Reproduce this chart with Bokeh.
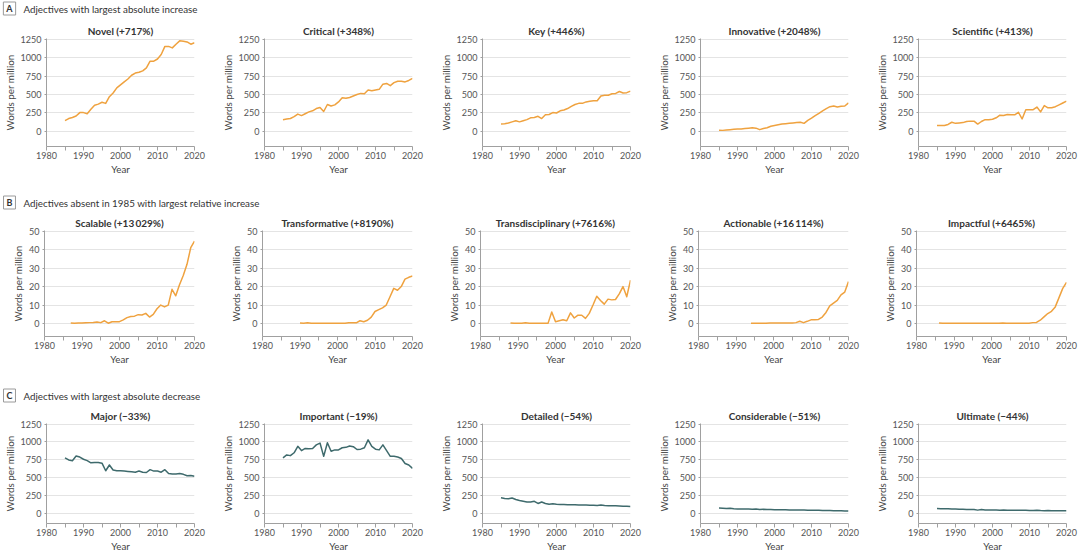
from bokeh.plotting import figure
from bokeh.layouts import column, row
from bokeh.models import Label, FixedTicker, Range1d
from bokeh.embed import file_html
from bokeh.resources import INLINE

# ---------------- data ----------------
years = list(range(1985, 2021))

novel = [147, 175, 190, 210, 255, 255, 240, 300, 355, 370, 395, 380, 470, 520, 590, 630,
         670, 710, 760, 790, 800, 820, 860, 950, 950, 980, 1040, 1150, 1150, 1130, 1180, 1225,
         1220, 1210, 1180, 1200]
critical = [160, 170, 175, 200, 235, 215, 240, 265, 280, 310, 325, 270, 365, 345, 360, 400,
            455, 450, 460, 480, 500, 515, 510, 560, 550, 560, 570, 640, 650, 620, 660, 680,
            680, 670, 690, 717]
key = [100, 105, 115, 130, 145, 130, 145, 160, 185, 190, 205, 175, 225, 230, 255, 250,
       280, 290, 310, 340, 365, 380, 380, 400, 410, 415, 415, 480, 490, 490, 510, 515,
       540, 520, 525, 546]
innovative = [18, 15, 20, 25, 30, 32, 35, 40, 45, 50, 45, 25, 40, 50, 70, 80,
              90, 100, 105, 110, 115, 120, 125, 110, 150, 180, 215, 245, 280, 310, 335, 345,
              330, 340, 345, 387]
scientific = [80, 80, 80, 95, 125, 110, 115, 120, 135, 140, 140, 100, 135, 160, 160, 165,
              185, 220, 215, 230, 225, 225, 260, 170, 295, 295, 295, 330, 265, 350, 320, 320,
              335, 360, 385, 410]

scalable_start = 1987
scalable = [0.3, 0.1, 0.3, 0.3, 0.4, 0.5, 0.6, 0.8, 0.5, 1.5, 0.2, 1.0, 1.0, 1.0, 2.0, 3.2,
            3.8, 4.0, 4.8, 4.6, 5.5, 3.5, 5.0, 8.0, 10.0, 9.0, 10.0, 18.5, 15.0, 21.0, 26.0,
            32.0, 41.0, 44.5]
transformative_start = 1990
transformative = [0.3, 0.2, 0.4, 0.1, 0.1, 0.1, 0.1, 0.1, 0.1, 0.1, 0.1, 0.1, 0.1, 0.4, 0.5,
                  0.4, 1.5, 1.0, 1.8, 3.5, 6.5, 7.5, 8.5, 10.0, 14.5, 19.0, 18.0, 20.0, 24.0,
                  25.0, 25.7]
transdisciplinary_start = 1988
transdisciplinary = [0.3, 0.1, 0.1, 0.1, 0.4, 0.2, 0.1, 0.1, 0.1, 0.1, 0.1, 6.2, 1.0, 1.5, 2.0,
                     1.5, 5.8, 3.0, 4.5, 4.5, 2.8, 5.5, 10.0, 14.8, 12.5, 10.5, 13.2, 12.8, 13.0,
                     16.0, 20.0, 14.5, 23.5]
actionable_start = 1994
actionable = [0.2, 0.1, 0.1, 0.1, 0.2, 0.3, 0.3, 0.3, 0.3, 0.3, 0.3, 0.3, 0.5, 1.2, 0.5, 1.2,
              2.0, 2.0, 2.2, 3.5, 6.0, 9.5, 11.0, 12.5, 15.5, 17.0, 22.7]
impactful_start = 1986
impactful = [0.3, 0.1, 0.1, 0.1, 0.1, 0.1, 0.1, 0.1, 0.1, 0.1, 0.1, 0.1, 0.1, 0.1, 0.1, 0.1,
             0.1, 0.3, 0.1, 0.1, 0.1, 0.1, 0.1, 0.1, 0.2, 0.5, 0.6, 1.8, 3.6, 5.4, 6.6, 9.0,
             14.0, 19.0, 22.3]

major = [780, 750, 740, 805, 790, 760, 740, 710, 715, 715, 705, 600, 680, 610, 600, 600,
         595, 590, 585, 580, 595, 580, 575, 615, 595, 595, 580, 615, 560, 555, 555, 560,
         550, 530, 535, 522]
important = [780, 820, 810, 850, 940, 880, 910, 905, 910, 960, 985, 800, 990, 870, 890, 890,
             920, 925, 945, 935, 895, 900, 920, 1030, 940, 900, 890, 960, 880, 800, 800, 790,
             770, 700, 680, 632]
detailed = [225, 215, 210, 220, 200, 185, 175, 165, 165, 175, 145, 165, 145, 135, 140, 135,
            132, 130, 128, 126, 128, 125, 122, 124, 120, 120, 118, 122, 115, 114, 112, 112,
            110, 107, 105, 103]
considerable = [80, 78, 75, 78, 72, 68, 68, 67, 66, 65, 68, 60, 63, 60, 60, 58,
                58, 57, 56, 55, 55, 54, 53, 55, 52, 52, 50, 52, 48, 46, 46, 45,
                44, 42, 41, 39]
ultimate = [75, 72, 70, 72, 68, 66, 65, 63, 62, 60, 62, 52, 60, 55, 55, 54,
            53, 52, 55, 52, 52, 50, 50, 52, 50, 48, 48, 50, 46, 45, 46, 45,
            44, 43, 43, 42]

row_a_titles = ["Novel (+717%)", "Critical (+348%)", "Key (+446%)", "Innovative (+2048%)", "Scientific (+413%)"]
row_b_titles = ["Scalable (+13\u2009029%)", "Transformative (+8190%)", "Transdisciplinary (+7616%)",
                "Actionable (+16\u2009114%)", "Impactful (+6465%)"]
row_c_titles = ["Major (\u221233%)", "Important (\u221219%)", "Detailed (\u221254%)",
                "Considerable (\u221251%)", "Ultimate (\u221244%)"]
headers = [("A", "Adjectives with largest absolute increase"),
           ("B", "Adjectives absent in 1985 with largest relative increase"),
           ("C", "Adjectives with largest absolute decrease")]
x_ticks = [1980, 1990, 2000, 2010, 2020]
x_minor = [1985, 1995, 2005, 2015]
y_ticks_big = [0, 250, 500, 750, 1000, 1250]
y_ticks_small = [0, 10, 20, 30, 40, 50]

ORANGE = "#EFA23F"
TEAL = "#3E6A6C"
FONT = "Lato"

LEFT = 44
FRAME_W = 150
STEP = 218


def panel(title, xs, ys, color, yr, yticks, top, frame_h, bottom, last):
    right = 12 if last else STEP - LEFT - FRAME_W
    p = figure(width=LEFT + FRAME_W + right, height=top + frame_h + bottom,
               x_range=Range1d(1980, 2020), y_range=Range1d(*yr),
               output_backend="svg", toolbar_location=None, title=title,
               min_border_left=LEFT, min_border_right=right,
               min_border_top=top, min_border_bottom=bottom)
    p.title.text_font = FONT
    p.title.text_font_size = "10px"
    p.title.text_font_style = "bold"
    p.title.text_color = "#333333"
    p.title.align = "center"
    p.title.standoff = 3
    p.outline_line_color = None
    p.background_fill_color = "white"
    p.border_fill_color = "white"
    p.xgrid.visible = False
    p.ygrid.grid_line_color = "#e4e4e4"
    p.ygrid.grid_line_width = 1

    p.xaxis.ticker = FixedTicker(ticks=x_ticks, minor_ticks=x_minor)
    p.yaxis.ticker = FixedTicker(ticks=yticks)
    for ax in (p.xaxis[0], p.yaxis[0]):
        ax.axis_line_color = "#a0a0a0"
        ax.major_tick_line_color = "#a0a0a0"
        ax.minor_tick_line_color = "#a0a0a0"
        ax.major_tick_in = 0
        ax.minor_tick_in = 0
        ax.major_label_text_font = FONT
        ax.major_label_text_font_size = "9px"
        ax.major_label_text_color = "#555555"
        ax.axis_label_text_font = FONT
        ax.axis_label_text_font_size = "9.8px"
        ax.axis_label_text_font_style = "normal"
        ax.axis_label_text_color = "#444444"
    p.xaxis.major_tick_out = 4
    p.xaxis.minor_tick_out = 4
    p.xaxis.major_label_standoff = 1
    p.xaxis.axis_label_standoff = 1
    p.yaxis.major_tick_out = 2
    p.yaxis.major_label_standoff = 3
    p.yaxis.axis_label_standoff = 2
    p.xaxis.axis_label = "Year"
    p.yaxis.axis_label = "Words per million"
    p.yaxis.minor_tick_line_color = None

    p.line(xs, ys, line_color=color, line_width=1.5, line_join="round")
    return p


def header(letter, text, h):
    p = figure(width=1078, height=h, x_range=Range1d(0, 1), y_range=Range1d(0, 1),
               output_backend="svg", toolbar_location=None,
               min_border_left=0, min_border_right=0, min_border_top=0, min_border_bottom=0,
               x_axis_location=None, y_axis_location=None)
    p.outline_line_color = None
    p.grid.visible = False
    p.add_layout(Label(x=9, y=8, x_units="screen", y_units="screen", text=letter,
                       text_font=FONT, text_font_size="9px", text_font_style="bold",
                       text_color="#333333", text_baseline="middle", text_align="center",
                       border_line_color="#9a9a9a", border_line_width=1,
                       background_fill_color="white", padding=(3, 1)))
    p.add_layout(Label(x=23, y=8, x_units="screen", y_units="screen", text=text,
                       text_font=FONT, text_font_size="9.8px", text_color="#333333",
                       text_baseline="middle", text_align="left"))
    return p


def yrs(start, vals):
    return list(range(start, start + len(vals)))


row_a_data = [novel, critical, key, innovative, scientific]
row_b_data = [(scalable_start, scalable), (transformative_start, transformative),
              (transdisciplinary_start, transdisciplinary), (actionable_start, actionable),
              (impactful_start, impactful)]
row_c_data = [major, important, detailed, considerable, ultimate]

row_a = row(*[panel(t, years, d, ORANGE, (-203, 1257), y_ticks_big, 22, 108, 32, i == 4)
              for i, (t, d) in enumerate(zip(row_a_titles, row_a_data))])
row_b = row(*[panel(t, yrs(s, d), d, ORANGE, (-7.0, 50.3), y_ticks_small, 20, 106, 32, i == 4)
              for i, (t, (s, d)) in enumerate(zip(row_b_titles, row_b_data))])
row_c = row(*[panel(t, years, d, TEAL, (-134, 1257), y_ticks_big, 20, 103, 28, i == 4)
              for i, (t, d) in enumerate(zip(row_c_titles, row_c_data))])

layout = column(header(*headers[0], 16), row_a,
                header(*headers[1], 32), row_b,
                header(*headers[2], 35), row_c)

open("out.html", "w").write(file_html(layout, INLINE))
